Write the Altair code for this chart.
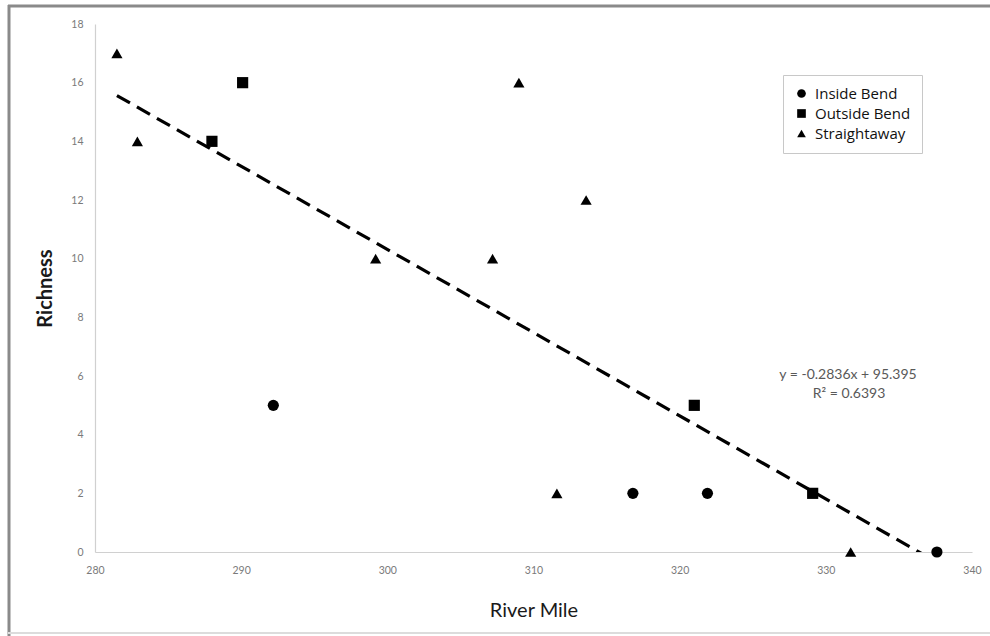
import altair as alt
import pandas as pd

# Sampling sites: river mile and species richness by habitat type
inside_mile = [292.2, 316.8, 321.9, 337.6]
inside_rich = [5, 2, 2, 0]
outside_mile = [288.0, 290.1, 321.0, 329.1]
outside_rich = [14, 16, 5, 2]
straight_mile = [281.5, 282.9, 299.2, 307.2, 309.0, 311.6, 313.6, 331.7]
straight_rich = [17, 14, 10, 10, 16, 2, 12, 0]

habitats = ["Inside Bend", "Outside Bend", "Straightaway"]
shapes = ["circle", "square", "triangle-up"]

# Linear trend fitted across all sites
slope = -0.2836
intercept = 95.395
r_squared = 0.6393

rows = []
for name, miles, rich in [
    ("Inside Bend", inside_mile, inside_rich),
    ("Outside Bend", outside_mile, outside_rich),
    ("Straightaway", straight_mile, straight_rich),
]:
    for m, r in zip(miles, rich):
        rows.append({"mile": m, "richness": r, "habitat": name})
points = pd.DataFrame(rows)

x_lo, x_hi = points["mile"].min(), points["mile"].max()
trend = pd.DataFrame({
    "mile": [x_lo, x_hi],
    "richness": [slope * x_lo + intercept, slope * x_hi + intercept],
})

W, H = 877, 528
x_scale = alt.Scale(domain=[280, 340], nice=False, zero=False)
y_scale = alt.Scale(domain=[0, 18], nice=False)

axis_common = dict(
    grid=False, ticks=False, domainColor="#d0d0d0", domainWidth=1.2,
    labelColor="#7a7a7a", labelFont="Lato", labelFontSize=10.5, labelFlush=False,
    titleFont="Lato", titleColor="#1a1a1a", titleFontSize=20,
)

x_enc = alt.X("mile:Q", scale=x_scale, title="River Mile",
              axis=alt.Axis(values=list(range(280, 341, 10)), labelPadding=13,
                            titlePadding=25, titleFontWeight="normal", **axis_common))
y_enc = alt.Y("richness:Q", scale=y_scale, title="Richness",
              axis=alt.Axis(values=list(range(0, 19, 2)), labelPadding=12,
                            titlePadding=15, titleFontWeight="bold", **axis_common))

pts = alt.Chart(points).mark_point(filled=True, opacity=1, color="black", size=125).encode(
    x=x_enc,
    y=y_enc,
    shape=alt.Shape("habitat:N", scale=alt.Scale(domain=habitats, range=shapes),
                    legend=alt.Legend(title=None, orient="none", legendX=688, legendY=51,
                                      strokeColor="#c8c8c8", padding=11,
                                      labelFont="Open Sans", labelFontSize=15,
                                      labelColor="#111111", symbolFillColor="black",
                                      symbolStrokeColor="black", symbolSize=75,
                                      symbolOpacity=1, rowPadding=4, labelOffset=6)),
)

line = alt.Chart(trend).mark_line(
    color="black", strokeWidth=3.2, strokeDash=[15, 8], clip=True
).encode(x=alt.X("mile:Q", scale=x_scale), y=alt.Y("richness:Q", scale=y_scale))

eq_df = pd.DataFrame({
    "line1": [f"y = {slope}x + {intercept}"],
    "line2": [f"R² = {r_squared}"],
})
eq1 = alt.Chart(eq_df).mark_text(font="Lato", fontSize=14, color="#595959").encode(
    text="line1:N", x=alt.value(753), y=alt.value(351))
eq2 = alt.Chart(eq_df).mark_text(font="Lato", fontSize=14, color="#595959").encode(
    text="line2:N", x=alt.value(754), y=alt.value(370))

# Outer frame around the figure
frame_top = alt.Chart(eq_df).mark_rule(color="#8a8a8a", strokeWidth=3).encode(
    x=alt.value(-87), x2=alt.value(900), y=alt.value(-18))
frame_left = alt.Chart(eq_df).mark_rule(color="#8a8a8a", strokeWidth=3).encode(
    x=alt.value(-86), y=alt.value(-19), y2=alt.value(612))
frame_bottom = alt.Chart(eq_df).mark_rule(color="#dcdcdc", strokeWidth=2).encode(
    x=alt.value(-87), x2=alt.value(900), y=alt.value(609))

chart = alt.layer(frame_top, frame_left, frame_bottom, line, pts, eq1, eq2).properties(
    width=W, height=H,
    autosize=alt.AutoSizeParams(type="none"),
    padding={"left": 95, "top": 24, "right": 18, "bottom": 84},
    background="white",
).configure_view(stroke=None)

chart.save("out.html", embed_options={"renderer": "svg", "actions": False})
